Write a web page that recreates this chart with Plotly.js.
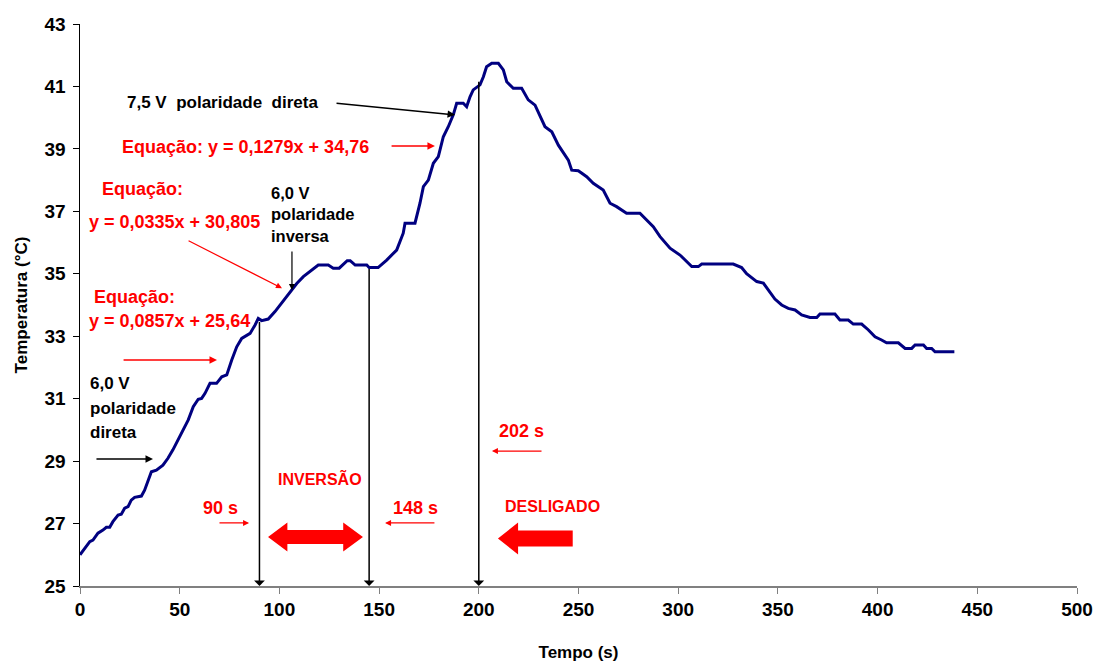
<!DOCTYPE html>
<html>
<head>
<meta charset="utf-8">
<script src="https://cdn.plot.ly/plotly-3.0.1.min.js"></script>
<style>html,body{margin:0;padding:0;background:#fff;}#chart{width:1100px;height:664px;}</style>
</head>
<body>
<div id="chart"></div>
<script>
// Time (s)
const tempo = [0, 2.3, 4.9, 6.5, 9.0, 11.5, 13.2, 14.9, 16.5, 19.1, 20.7, 22.4, 24.1, 25.7, 27.4, 30.8, 32.4, 35.8, 38.3, 41.6, 44.1, 46.6, 49.1, 51, 54.3, 56.8, 59.3, 61, 62.7, 65.2, 68.5, 71.1, 73.6, 76.1, 78.6, 81.1, 83.6, 85.3, 87.8, 89.4, 91.1, 94.4, 97.8, 100.3, 103.7, 106.2, 108.7, 112, 116.2, 119.5, 124.5, 127, 130, 134, 135.5, 138, 143.8, 145, 149.5, 153.8, 158.8, 162.1, 163, 168, 170.5, 172.2, 174.7, 177.2, 179.7, 182.2, 184.7, 187.2, 188.9, 192.2, 193.9, 195.6, 197.2, 200.6, 202.3, 203.9, 206.5, 209.8, 212.3, 214, 217.3, 221.5, 224.8, 228.2, 233.2, 236.6, 239.9, 244.9, 246.6, 249.9, 254.1, 257.4, 262.4, 265.8, 269.1, 274.1, 280.8, 284.2, 287.5, 290.9, 295.9, 300.9, 306.8, 310.1, 311.8, 327.6, 331.8, 334.3, 339.4, 342.7, 346, 348.5, 351.9, 355.2, 358.6, 361.9, 366.1, 369.5, 371.1, 378.6, 381.1, 385.3, 387.8, 392, 395.4, 398.7, 402, 404.5, 410.4, 413.8, 417.1, 418.8, 423, 424.6, 427.1, 428.8, 438.5];
// Temperature (°C)
const temperatura = [26.0, 26.2, 26.42, 26.47, 26.69, 26.79, 26.88, 26.88, 27.06, 27.27, 27.3, 27.49, 27.54, 27.75, 27.84, 27.88, 28.07, 28.66, 28.71, 28.87, 29.09, 29.36, 29.68, 29.89, 30.32, 30.74, 30.98, 31.01, 31.17, 31.49, 31.49, 31.7, 31.76, 32.24, 32.66, 32.93, 33.04, 33.09, 33.36, 33.57, 33.5, 33.55, 33.79, 34.0, 34.27, 34.48, 34.69, 34.91, 35.12, 35.28, 35.28, 35.18, 35.18, 35.42, 35.42, 35.28, 35.28, 35.2, 35.2, 35.44, 35.76, 36.3, 36.62, 36.62, 37.26, 37.79, 38.0, 38.54, 38.75, 39.39, 39.71, 40.09, 40.46, 40.46, 40.35, 40.67, 40.89, 41.05, 41.31, 41.63, 41.74, 41.74, 41.53, 41.15, 40.94, 40.94, 40.57, 40.4, 39.71, 39.55, 39.12, 38.64, 38.32, 38.3, 38.11, 37.9, 37.68, 37.26, 37.15, 36.94, 36.94, 36.72, 36.51, 36.19, 35.82, 35.6, 35.23, 35.23, 35.31, 35.31, 35.2, 35.0, 34.75, 34.7, 34.43, 34.19, 34.0, 33.89, 33.84, 33.68, 33.6, 33.6, 33.71, 33.71, 33.52, 33.52, 33.39, 33.39, 33.2, 32.98, 32.88, 32.79, 32.79, 32.61, 32.61, 32.72, 32.72, 32.61, 32.61, 32.5, 32.5];
// Event times (s) marked by vertical arrows, and the curve temperature at each
const eventos = [90, 145, 200];
const eventoTemp = [33.5, 35.2, 41.2];
const xTicks = [0, 50, 100, 150, 200, 250, 300, 350, 400, 450, 500];
const yTicks = [25, 27, 29, 31, 33, 35, 37, 39, 41, 43];

const FONT = 'Arial, "Liberation Sans", sans-serif';
const RED = '#ff0000';

const trace = {
  x: tempo, y: temperatura, type: 'scatter', mode: 'lines',
  line: {color: '#000080', width: 3, shape: 'linear'},
  hoverinfo: 'x+y'
};

function txt(text, x, y, color, size, xanchor) {
  return {text: text, x: x, y: y, xref: 'x', yref: 'y', showarrow: false,
    xanchor: xanchor || 'left', yanchor: 'middle', align: 'left',
    font: {family: FONT, size: size, color: color, weight: 'bold'}};
}
function arr(x0, y0, x1, y1, color, width) {
  return {x: x1, y: y1, ax: x0, ay: y0, xref: 'x', yref: 'y', axref: 'x', ayref: 'y',
    text: '', showarrow: true, arrowhead: 2, arrowsize: 1, arrowwidth: width || 1.5,
    arrowcolor: color, standoff: 0, startstandoff: 0};
}

const annotations = [
  txt('7,5 V  polaridade  direta', 22.6, 40.5, '#000', 17),
  arr(127.9, 40.47, 188.1, 40.09, '#000', 1.5),
  txt('Equação: y = 0,1279x + 34,76', 20.1, 39.06, RED, 18),
  arr(155.5, 39.09, 178, 39.09, RED, 1.5),
  txt('Equação:', 10, 37.71, RED, 18),
  txt('y = 0,0335x + 30,805', 3.5, 36.66, RED, 18),
  arr(53.7, 36.08, 101.3, 34.54, RED, 1.2),
  txt('6,0 V', 94.8, 37.59, '#000', 16.5),
  txt('polaridade', 94.8, 36.91, '#000', 16.5),
  txt('inversa', 94.8, 36.21, '#000', 16.5),
  arr(106.3, 35.76, 106.3, 34.48, '#000', 1.2),
  txt('Equação:', 6.0, 34.26, RED, 18),
  txt('y = 0,0857x + 25,64', 3.5, 33.49, RED, 18),
  arr(21.1, 32.24, 68.7, 32.24, RED, 1.5),
  txt('6,0 V', 4.0, 31.47, '#000', 17),
  txt('polaridade', 4.0, 30.70, '#000', 17),
  txt('direta', 4.0, 29.93, '#000', 17),
  arr(7.5, 29.07, 36.6, 29.07, '#000', 1.5),
  txt('90 s', 70.7, 27.5, RED, 18, 'center'),
  arr(69.2, 27.02, 84.8, 27.02, RED, 1.2),
  txt('INVERSÃO', 120.4, 28.43, RED, 16, 'center'),
  txt('148 s', 168.5, 27.5, RED, 18, 'center'),
  arr(178.5, 27.02, 153, 27.02, RED, 1.2),
  txt('202 s', 221.2, 29.96, RED, 18, 'center'),
  arr(232.2, 29.32, 206.6, 29.32, RED, 1.2),
  txt('DESLIGADO', 237.2, 27.56, RED, 16, 'center')
];
eventos.forEach(function (t, i) {
  const a = arr(t, eventoTemp[i], t, 25, '#000', 1.5);
  a.arrowhead = 1; a.arrowsize = 1.2;
  annotations.push(a);
});

const shapes = [
  {type: 'path', xref: 'x', yref: 'y', fillcolor: RED, line: {width: 0},
   path: 'M 94.3,26.57 L 104,27.034 L 104,26.794 L 132,26.794 L 132,27.034 L 141.9,26.57 L 132,26.106 L 132,26.346 L 104,26.346 L 104,26.106 Z'},
  {type: 'path', xref: 'x', yref: 'y', fillcolor: RED, line: {width: 0},
   path: 'M 209.6,26.52 L 219.7,27.032 L 219.7,26.776 L 247.1,26.776 L 247.1,26.264 L 219.7,26.264 L 219.7,26.008 Z'}
];

const layout = {
  width: 1100, height: 664,
  margin: {l: 80, r: 23, t: 24, b: 78, pad: 0},
  paper_bgcolor: '#fff', plot_bgcolor: '#fff',
  showlegend: false,
  font: {family: FONT, color: '#000'},
  xaxis: {
    range: [0, 500], tickvals: xTicks, ticktext: xTicks.map(String),
    showgrid: false, zeroline: false, showline: true, linecolor: '#808080', linewidth: 1.5,
    ticks: 'outside', ticklen: 6, tickcolor: '#808080', tickwidth: 1,
    tickfont: {family: FONT, size: 19, color: '#000', weight: 'bold'},
    title: {text: 'Tempo (s)', font: {family: FONT, size: 17, color: '#000', weight: 'bold'}, standoff: 27}
  },
  yaxis: {
    range: [25, 43], tickvals: yTicks, ticktext: yTicks.map(String),
    showgrid: false, zeroline: false, showline: true, linecolor: '#000', linewidth: 1.5,
    ticks: 'outside', ticklen: 6, tickcolor: '#000', tickwidth: 1,
    ticklabelstandoff: 3,
    tickfont: {family: FONT, size: 19, color: '#000', weight: 'bold'},
    title: {text: 'Temperatura (°C)', font: {family: FONT, size: 17, color: '#000', weight: 'bold'}, standoff: 12}
  },
  annotations: annotations,
  shapes: shapes
};

Plotly.newPlot('chart', [trace], layout, {displayModeBar: false, staticPlot: true});
</script>
</body>
</html>
